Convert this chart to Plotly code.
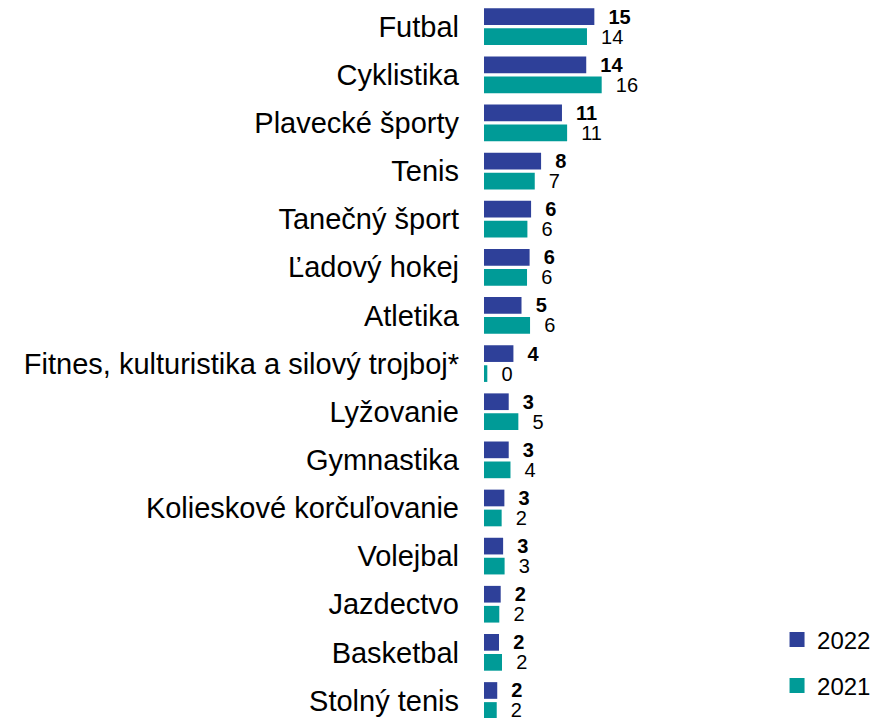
import plotly.graph_objects as go

categories = ["Futbal", "Cyklistika", "Plavecké športy", "Tenis", "Tanečný šport",
              "Ľadový hokej", "Atletika", "Fitnes, kulturistika a silový trojboj*",
              "Lyžovanie", "Gymnastika", "Kolieskové korčuľovanie", "Volejbal",
              "Jazdectvo", "Basketbal", "Stolný tenis"]
values_2022 = [15.0, 13.9, 10.6, 7.76, 6.4, 6.2, 5.1, 4.0, 3.36, 3.36, 2.77, 2.6, 2.27, 2.04, 1.8]
values_2021 = [14.0, 16.0, 11.3, 6.9, 5.9, 5.85, 6.26, 0.45, 4.67, 3.6, 2.4, 2.8, 2.08, 2.45, 1.73]
series_names = ["2022", "2021"]
colors = ["#2E4099", "#009B97"]

FONT = "Liberation Sans, Arial, sans-serif"
NB = "\u00a0\u00a0"

fig = go.Figure()
fig.add_trace(go.Bar(
    y=categories, x=values_2022, orientation="h", name=series_names[0],
    marker=dict(color=colors[0], line=dict(width=0)),
    texttemplate=NB + "<b>%{x:.0f}</b>", textposition="outside",
    textfont=dict(size=20, color="black", family=FONT),
    constraintext="none", cliponaxis=False, showlegend=False, hoverinfo="x+y"))
fig.add_trace(go.Bar(
    y=categories, x=values_2021, orientation="h", name=series_names[1],
    marker=dict(color=colors[1], line=dict(width=0)),
    texttemplate=NB + "%{x:.0f}", textposition="outside",
    textfont=dict(size=20, color="black", family=FONT),
    constraintext="none", cliponaxis=False, showlegend=False, hoverinfo="x+y"))

# legend-only entries
fig.add_trace(go.Scatter(x=[None], y=[None], mode="markers", name=series_names[0],
                         marker=dict(symbol="square", size=15, color=colors[0]),
                         legend="legend"))
fig.add_trace(go.Scatter(x=[None], y=[None], mode="markers", name=series_names[1],
                         marker=dict(symbol="square", size=15, color=colors[1]),
                         legend="legend2"))

fig.update_layout(
    width=879, height=718,
    margin=dict(l=484, r=0, t=0, b=0, autoexpand=False),
    paper_bgcolor="white", plot_bgcolor="white",
    font=dict(family=FONT, color="black"),
    barmode="group", bargap=0.169, bargroupgap=0.165,
    xaxis=dict(range=[0, 53.7], visible=False, showgrid=False, zeroline=False),
    yaxis=dict(range=[14.364, -0.555], showgrid=False, zeroline=False, showline=False,
               ticks="", tickfont=dict(size=29, color="black", family=FONT),
               ticklabelstandoff=24, categoryorder="array", categoryarray=categories),
    legend=dict(xref="container", yref="container", x=0.884, y=1 - 640 / 718,
                xanchor="left", yanchor="middle", bgcolor="rgba(0,0,0,0)",
                font=dict(size=24, family=FONT, color="black"), itemwidth=30),
    legend2=dict(xref="container", yref="container", x=0.884, y=1 - 686 / 718,
                 xanchor="left", yanchor="middle", bgcolor="rgba(0,0,0,0)",
                 font=dict(size=24, family=FONT, color="black"), itemwidth=30),
)

fig.write_html("out.html", config={"displayModeBar": False},
               post_script="document.body.style.margin='0';document.body.style.overflow='hidden';")
